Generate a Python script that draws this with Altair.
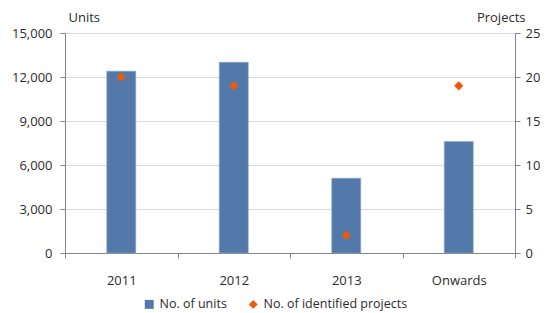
import altair as alt
import pandas as pd

categories = ["2011", "2012", "2013", "Onwards"]
units = [12400, 13000, 5100, 7600]
projects = [20, 19, 2, 19]
series = ["No. of units", "No. of identified projects"]

df = pd.DataFrame({
    "cat": categories,
    "units": units,
    "projects": projects,
    "s_units": [series[0]] * 4,
    "s_proj": [series[1]] * 4,
})

FONT = "Open Sans"
LBL = "#2b2b2b"
FS = 13

color_scale = alt.Scale(domain=series, range=["#5378AA", "#EC5B0A"])
shape_scale = alt.Scale(domain=series, range=["square", "diamond"])

x = alt.X("cat:N", sort=categories, title=None,
          scale=alt.Scale(paddingInner=0, paddingOuter=0),
          axis=alt.Axis(labelAngle=0, labelPadding=16, tickSize=5,
                        tickBand="extent", domainColor="#868686",
                        tickColor="#868686", labelColor=LBL,
                        labelFontSize=FS, labelFont=FONT))

legend = alt.Legend(title=None, orient="none", direction="horizontal",
                    legendX=78, legendY=265, labelFont=FONT, labelFontSize=12.5,
                    labelColor=LBL, symbolSize=80, columnPadding=20,
                    symbolStrokeWidth=0)

bars = alt.Chart(df).mark_bar(size=29, stroke="#8DA6CA", strokeWidth=0.6).encode(
    x=x,
    y=alt.Y("units:Q", title="Units",
            scale=alt.Scale(domain=[0, 15000]),
            axis=alt.Axis(values=[0, 3000, 6000, 9000, 12000, 15000], format=",d",
                          tickSize=5, labelPadding=8, domainColor="#868686",
                          tickColor="#868686", gridColor="#D9D9D9",
                          labelColor=LBL, labelFontSize=FS, labelFont=FONT,
                          titleAngle=0, titleAlign="left", titleBaseline="bottom",
                          titleX=3, titleY=-9, titleFont=FONT, titleFontSize=FS,
                          titleFontWeight="normal", titleColor=LBL)),
    color=alt.Color("s_units:N", scale=color_scale, legend=legend),
)

points = alt.Chart(df).mark_point(filled=True, opacity=1, size=85).encode(
    x=x,
    y=alt.Y("projects:Q", title="Projects",
            scale=alt.Scale(domain=[0, 25]),
            axis=alt.Axis(orient="right", values=[0, 5, 10, 15, 20, 25],
                          tickSize=5, labelPadding=5, grid=False,
                          domainColor="#868686", tickColor="#868686",
                          labelColor=LBL, labelFontSize=FS, labelFont=FONT,
                          titleAngle=0, titleAlign="right", titleBaseline="bottom",
                          titleX=10, titleY=-9, titleFont=FONT, titleFontSize=FS,
                          titleFontWeight="normal", titleColor=LBL)),
    color=alt.Color("s_proj:N", scale=color_scale, legend=legend),
    shape=alt.Shape("s_proj:N", scale=shape_scale, legend=legend),
)

chart = alt.layer(bars, points).resolve_scale(y="independent").properties(
    width=450, height=220,
    padding={"left": 3, "top": 3, "right": 0, "bottom": 0},
).configure_view(stroke="#868686")

chart.save("out.html", embed_options={"renderer": "svg", "actions": False})
